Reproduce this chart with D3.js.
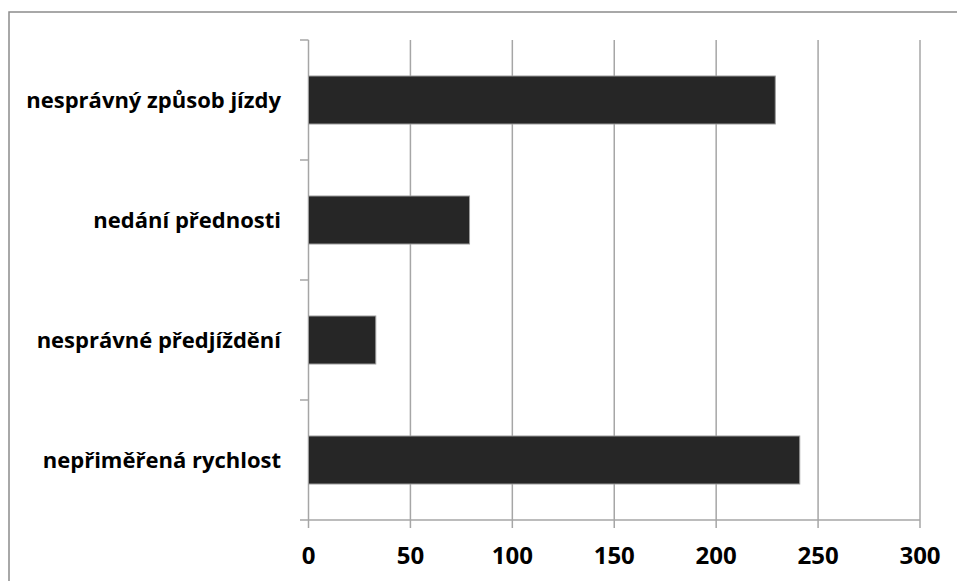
<!DOCTYPE html>
<html><head><meta charset="utf-8">
<script src="https://cdn.jsdelivr.net/npm/d3@7"></script>
<style>html,body{margin:0;padding:0;background:#fff;overflow:hidden}</style>
</head><body>
<svg id="c" width="957" height="581"></svg>
<script>
const categories = ["nesprávný způsob jízdy", "nedání přednosti", "nesprávné předjíždění", "nepřiměřená rychlost"];
const values = [229, 79, 33, 241];
const xTicks = [0, 50, 100, 150, 200, 250, 300];

const svg = d3.select("#c");
const L = 308.5, R = 920, T = 40, B = 520;

svg.append("rect").attr("x", 9).attr("y", 12).attr("width", 960).attr("height", 600)
  .attr("fill", "none").attr("stroke", "#8c8c8c").attr("stroke-width", 1.5);

const x = d3.scaleLinear().domain([0, 300]).range([L, R]);
const y = d3.scaleBand().domain(categories).range([T, B]).paddingInner(0.6).paddingOuter(0.3);

const grid = "#a6a6a6";
svg.append("g").selectAll("line").data(xTicks).join("line")
  .attr("x1", d => x(d)).attr("x2", d => x(d)).attr("y1", T).attr("y2", B + 8)
  .attr("stroke", grid).attr("stroke-width", 1.5);

const bounds = d3.range(categories.length + 1).map(i => T + i * (B - T) / categories.length);
svg.append("g").selectAll("line").data(bounds).join("line")
  .attr("x1", L - 8.5).attr("x2", L).attr("y1", d => d).attr("y2", d => d)
  .attr("stroke", grid).attr("stroke-width", 1.5);
svg.append("line").attr("x1", L).attr("x2", R).attr("y1", B).attr("y2", B)
  .attr("stroke", grid).attr("stroke-width", 1.5);

svg.append("g").selectAll("rect").data(values).join("rect")
  .attr("x", x(0)).attr("y", (d, i) => y(categories[i]))
  .attr("width", d => x(d) - x(0)).attr("height", y.bandwidth())
  .attr("fill", "#262626").attr("stroke", "#9a9a9a").attr("stroke-width", 1);

svg.append("g").selectAll("text").data(xTicks).join("text")
  .attr("x", d => x(d)).attr("y", 564).attr("text-anchor", "middle")
  .attr("font-family", "Open Sans, sans-serif").attr("font-weight", "bold").attr("font-size", 24)
  .attr("fill", "#000").text(d => d);

svg.append("g").selectAll("text").data(categories).join("text")
  .attr("x", 281).attr("y", d => y(d) + y.bandwidth() / 2).attr("dy", "0.35em")
  .attr("text-anchor", "end")
  .attr("font-family", "Open Sans, sans-serif").attr("font-weight", "bold").attr("font-size", 22)
  .attr("fill", "#000").text(d => d);
</script>
</body></html>
